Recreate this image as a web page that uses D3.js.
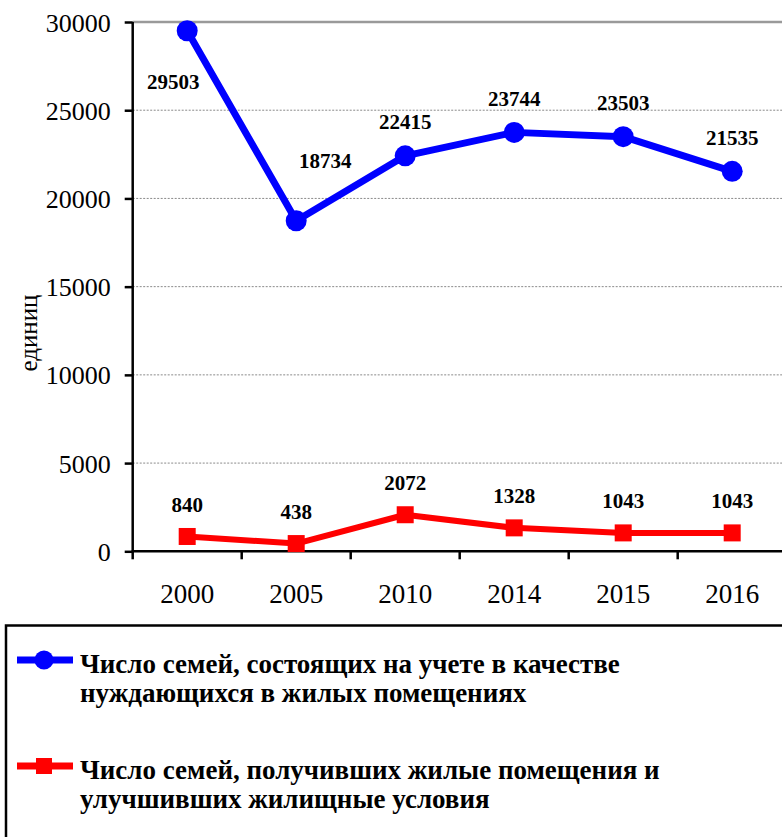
<!DOCTYPE html>
<html>
<head>
<meta charset="utf-8">
<script src="https://cdn.jsdelivr.net/npm/d3@7"></script>
<style>
  html, body { margin: 0; padding: 0; background: #fff; }
  svg { display: block; }
</style>
</head>
<body>
<script>
// Years shown on the category axis
const years = ["2000", "2005", "2010", "2014", "2015", "2016"];
// Families registered as needing housing
const needing = [29503, 18734, 22415, 23744, 23503, 21535];
// Families that received housing or improved living conditions
const received = [840, 438, 2072, 1328, 1043, 1043];
// Value axis ticks
const yTicks = [0, 5000, 10000, 15000, 20000, 25000, 30000];
const yTitle = "единиц";
const legendNeeding = ["Число семей, состоящих на учете в качестве", "нуждающихся в жилых помещениях"];
const legendReceived = ["Число семей, получивших жилые помещения и", "улучшивших жилищные условия"];

const W = 782, H = 837;
const serif = "'Liberation Serif', 'Times New Roman', serif";
const BLUE = "#0000ff", RED = "#ff0000";

const svg = d3.select("body").append("svg")
  .attr("width", W).attr("height", H)
  .style("font-family", serif);

const plotLeft = 132.7, plotRight = 786.7, plotTop = 22, plotBottom = 551.3;

const x = d3.scalePoint().domain(years).range([plotLeft, plotRight]).padding(0.5);
const y = d3.scaleLinear().domain([0, 30000]).range([plotBottom, plotTop]);

// Gridlines: the top one solid, the rest dotted
svg.append("g").selectAll("line")
  .data(yTicks.filter(v => v > 0))
  .join("line")
  .attr("x1", plotLeft).attr("x2", W)
  .attr("y1", d => y(d)).attr("y2", d => y(d))
  .attr("stroke", d => d === 30000 ? "#9a9a9a" : "#8a8a8a")
  .attr("stroke-width", d => d === 30000 ? 2.5 : 1)
  .attr("stroke-dasharray", d => d === 30000 ? null : "2,1.5");

// Y axis
const yAxis = svg.append("g")
  .attr("transform", `translate(${plotLeft},0)`)
  .call(d3.axisLeft(y).tickValues(yTicks).tickSize(8).tickPadding(14).tickFormat(d3.format("d")));
yAxis.select(".domain").attr("stroke", "#000").attr("stroke-width", 2.5)
  .attr("d", `M0,${plotTop}V${plotBottom}`);
yAxis.selectAll(".tick line").attr("stroke", "#000").attr("stroke-width", 2.5);
yAxis.selectAll(".tick text")
  .attr("font-family", serif).attr("font-size", 26).attr("fill", "#000")
  .attr("dy", "0.35em");

// X axis: ticks sit between categories
const xAxis = svg.append("g").attr("transform", `translate(0,${plotBottom})`);
xAxis.append("line")
  .attr("x1", plotLeft - 1).attr("x2", W)
  .attr("stroke", "#000").attr("stroke-width", 2.5);
const step = x.step();
xAxis.selectAll("line.tk")
  .data(years)
  .join("line").attr("class", "tk")
  .attr("x1", d => x(d) - step / 2).attr("x2", d => x(d) - step / 2)
  .attr("y1", 0).attr("y2", 8)
  .attr("stroke", "#000").attr("stroke-width", 2.5);
xAxis.selectAll("text")
  .data(years)
  .join("text")
  .attr("x", d => x(d)).attr("y", 52)
  .attr("text-anchor", "middle")
  .attr("font-size", 27).attr("fill", "#000")
  .text(d => d);

// Y axis title
svg.append("text")
  .attr("transform", `translate(37,333) rotate(-90)`)
  .attr("text-anchor", "middle")
  .attr("font-size", 25).attr("fill", "#000")
  .text(yTitle);

// Lines
const line = d3.line().x((d, i) => x(years[i])).y(d => y(d));

svg.append("path").datum(needing)
  .attr("d", line).attr("fill", "none")
  .attr("stroke", BLUE).attr("stroke-width", 7).attr("stroke-linejoin", "round");
svg.append("g").selectAll("circle")
  .data(needing).join("circle")
  .attr("cx", (d, i) => x(years[i])).attr("cy", d => y(d))
  .attr("r", 10.5).attr("fill", BLUE);

svg.append("path").datum(received)
  .attr("d", line).attr("fill", "none")
  .attr("stroke", RED).attr("stroke-width", 6).attr("stroke-linejoin", "round");
svg.append("g").selectAll("rect")
  .data(received).join("rect")
  .attr("x", (d, i) => x(years[i]) - 8.5).attr("y", d => y(d) - 8.5)
  .attr("width", 17).attr("height", 17).attr("fill", RED);

// Value labels: above the point, except the first two of the blue series
function blueLabelPos(d, i) {
  const px = x(years[i]), py = y(d);
  if (i === 0) return [px - 14, py + 51];
  if (i === 1) return [px + 29, py - 60];
  return [px, py - 34];
}
svg.append("g").selectAll("text")
  .data(needing).join("text")
  .attr("x", (d, i) => blueLabelPos(d, i)[0])
  .attr("y", (d, i) => blueLabelPos(d, i)[1])
  .attr("dy", "0.35em")
  .attr("text-anchor", "middle")
  .attr("font-size", 21).attr("font-weight", "bold").attr("fill", "#000")
  .text(d => d);

svg.append("g").selectAll("text")
  .data(received).join("text")
  .attr("x", (d, i) => x(years[i]))
  .attr("y", d => y(d) - 32)
  .attr("dy", "0.35em")
  .attr("text-anchor", "middle")
  .attr("font-size", 21).attr("font-weight", "bold").attr("fill", "#000")
  .text(d => d);

// Legend box
svg.append("rect")
  .attr("x", 6).attr("y", 625.5)
  .attr("width", W + 20).attr("height", 260)
  .attr("fill", "none").attr("stroke", "#000").attr("stroke-width", 2.5);

const legendItems = [
  { color: BLUE, lines: legendNeeding, sym: "circle", cy: 660 },
  { color: RED, lines: legendReceived, sym: "square", cy: 766 }
];
const lg = svg.append("g").selectAll("g").data(legendItems).join("g");
lg.append("line")
  .attr("x1", 17).attr("x2", 73)
  .attr("y1", d => d.cy).attr("y2", d => d.cy)
  .attr("stroke", d => d.color).attr("stroke-width", 7);
lg.filter(d => d.sym === "circle").append("circle")
  .attr("cx", 44).attr("cy", d => d.cy).attr("r", 9.5).attr("fill", d => d.color);
lg.filter(d => d.sym === "square").append("rect")
  .attr("x", 36).attr("y", d => d.cy - 8).attr("width", 16).attr("height", 16)
  .attr("fill", d => d.color);
lg.append("text")
  .attr("x", 80)
  .attr("font-size", 27).attr("font-weight", "bold").attr("fill", "#000")
  .selectAll("tspan")
  .data(d => d.lines.map((t, k) => ({ t, k, cy: d.cy })))
  .join("tspan")
  .attr("x", 80)
  .attr("y", d => d.cy + 13 + d.k * 28.5)
  .text(d => d.t);
</script>
</body>
</html>
